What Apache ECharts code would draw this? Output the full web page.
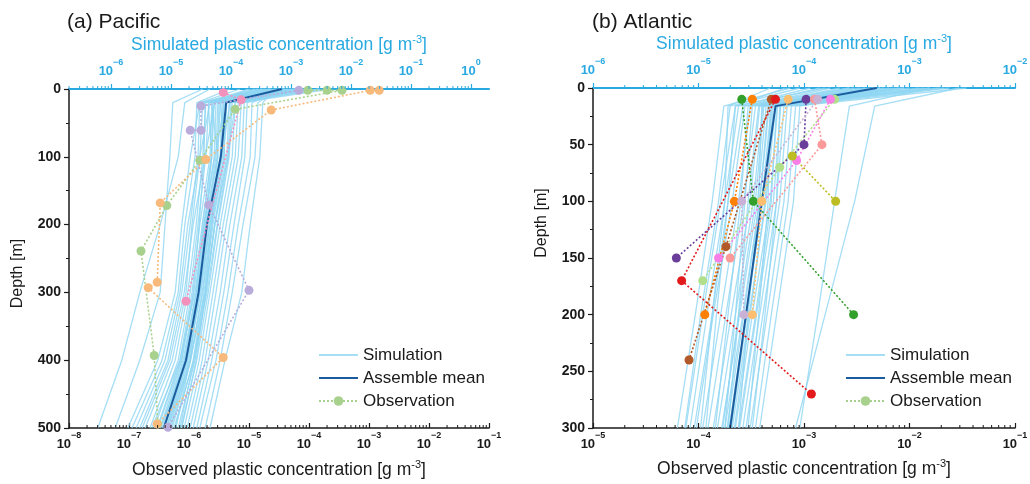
<!DOCTYPE html>
<html><head><meta charset="utf-8">
<script src="https://cdn.jsdelivr.net/npm/echarts@6/dist/echarts.min.js"></script>
<style>html,body{margin:0;padding:0;background:#fff}#c{width:1030px;height:484px}</style>
</head><body><div id="c"></div>
<script>
// ---------------- DATA (concentrations stored as log10 of g m^-3) ----------------
// Pacific simulation depths [m] and ensemble members (top axis, simulated)
const simDepthPacific = [0, 20, 100, 200, 300, 400, 500];
const simPacific = [
 [-4.47,-4.97,-5.02,-5.10,-5.18,-5.52,-5.93],
 [-4.35,-4.77,-4.88,-5.18,-5.52,-5.82,-6.22],
 [-4.02,-4.57,-4.60,-4.77,-4.88,-5.15,-5.65],
 [-3.85,-4.52,-4.55,-4.68,-4.82,-5.05,-5.52],
 [-3.68,-4.47,-4.52,-4.65,-4.75,-4.98,-5.43],
 [-3.60,-4.42,-4.47,-4.58,-4.72,-4.93,-5.35],
 [-3.48,-4.37,-4.42,-4.55,-4.68,-4.88,-5.28],
 [-3.38,-4.32,-4.35,-4.52,-4.65,-4.85,-5.23],
 [-3.32,-4.28,-4.32,-4.48,-4.62,-4.82,-5.18],
 [-3.25,-4.25,-4.28,-4.45,-4.58,-4.80,-5.15],
 [-3.18,-4.22,-4.25,-4.42,-4.57,-4.77,-5.10],
 [-3.10,-4.18,-4.22,-4.40,-4.53,-4.73,-5.07],
 [-3.05,-4.15,-4.18,-4.37,-4.52,-4.70,-5.02],
 [-2.98,-4.12,-4.15,-4.33,-4.48,-4.67,-4.98],
 [-2.93,-4.08,-4.12,-4.30,-4.45,-4.63,-4.93],
 [-2.85,-4.03,-4.07,-4.27,-4.42,-4.60,-4.88],
 [-2.77,-3.98,-4.03,-4.22,-4.38,-4.57,-4.83],
 [-2.68,-3.93,-3.98,-4.18,-4.35,-4.53,-4.78],
 [-2.52,-3.88,-3.93,-4.13,-4.30,-4.48,-4.73],
 [-2.35,-3.83,-3.88,-4.08,-4.25,-4.43,-4.68],
 [-2.88,-3.78,-3.82,-4.02,-4.18,-4.38,-4.63],
 [-3.02,-3.73,-3.77,-3.95,-4.12,-4.32,-4.57],
 [-3.10,-3.65,-3.68,-3.88,-4.05,-4.25,-4.52],
 [-3.18,-3.55,-3.60,-3.80,-3.98,-4.18,-4.43],
 [-3.27,-3.47,-3.52,-3.68,-3.82,-4.10,-4.35],
 [-3.43,-4.52,-4.68,-4.82,-4.93,-5.22,-5.72],
 [-3.55,-4.35,-4.52,-4.72,-4.85,-5.10,-5.58],
 [-3.72,-4.27,-4.43,-4.63,-4.78,-5.02,-5.48],
 [-2.85,-4.10,-4.27,-4.45,-4.60,-4.85,-5.32],
 [-2.68,-4.02,-4.15,-4.35,-4.52,-4.75,-5.18],
 [-2.52,-3.93,-4.05,-4.27,-4.43,-4.68,-5.05],
 [-2.93,-4.18,-4.10,-4.27,-4.42,-4.58,-4.82],
 [-3.10,-4.32,-4.22,-4.32,-4.43,-4.62,-4.85],
 [-3.35,-4.38,-4.32,-4.43,-4.55,-4.68,-4.92],
 [-3.13,-4.20,-4.23,-4.42,-4.55,-4.75,-5.08],
 [-3.22,-4.13,-4.17,-4.35,-4.50,-4.72,-5.05],
 [-3.02,-4.07,-4.12,-4.32,-4.47,-4.68,-5.00],
 [-3.35,-4.30,-4.33,-4.47,-4.58,-4.78,-5.13],
 [-2.92,-4.00,-4.05,-4.23,-4.40,-4.62,-4.95],
 [-3.48,-4.43,-4.45,-4.53,-4.63,-4.83,-5.22]
];
const meanPacific = [-3.15,-4.08,-4.17,-4.40,-4.54,-4.75,-5.12];

// Pacific observations: [depth m, log10 conc] (bottom axis, observed)
const obsPacificColors = ['#a9d18e', '#f7ba7c', '#b9acdb', '#f291bb'];
const obsPacific = [
 [[2,-4.02],[2,-3.70],[2,-3.45],[30,-5.23],[105,-5.82],[172,-6.37],[239,-6.80],[393,-6.58],[494,-6.52]],
 [[2,-2.83],[2,-2.98],[31,-4.63],[104,-5.72],[168,-6.48],[285,-6.53],[293,-6.68],[396,-5.43],[494,-6.53]],
 [[2,-4.17],[25,-5.80],[61,-5.80],[61,-5.98],[171,-5.67],[297,-5.00],[499,-6.35]],
 [[5,-5.43],[16,-5.13],[313,-6.05]]
];

// Atlantic simulation depths [m] and ensemble members
const simDepthAtlantic = [0, 16, 100, 200, 300];
const simAtlantic = [
 [-4.13,-4.76,-4.87,-5.03,-5.20],
 [-4.04,-4.70,-4.81,-4.98,-5.13],
 [-3.94,-4.62,-4.75,-4.92,-5.08],
 [-3.85,-4.56,-4.68,-4.86,-5.02],
 [-3.75,-4.51,-4.62,-4.79,-4.96],
 [-3.66,-4.46,-4.57,-4.74,-4.91],
 [-3.57,-4.42,-4.51,-4.69,-4.86],
 [-3.47,-4.39,-4.48,-4.65,-4.82],
 [-3.38,-4.36,-4.44,-4.61,-4.78],
 [-3.28,-4.33,-4.42,-4.58,-4.75],
 [-3.19,-4.30,-4.39,-4.55,-4.71],
 [-3.09,-4.27,-4.36,-4.52,-4.68],
 [-3.00,-4.25,-4.32,-4.49,-4.65],
 [-2.91,-4.22,-4.29,-4.45,-4.61],
 [-2.81,-4.19,-4.26,-4.42,-4.58],
 [-2.72,-4.16,-4.23,-4.39,-4.55],
 [-2.62,-4.12,-4.19,-4.35,-4.51],
 [-2.46,-4.08,-4.15,-4.31,-4.46],
 [-3.09,-4.04,-4.10,-4.26,-4.42],
 [-2.53,-3.33,-3.52,-3.80,-4.08],
 [-2.81,-3.57,-3.71,-3.87,-4.04],
 [-4.32,-4.72,-4.75,-4.87,-4.98],
 [-4.18,-4.65,-4.72,-4.83,-4.93],
 [-3.28,-4.49,-4.56,-4.65,-4.75],
 [-3.05,-4.43,-4.53,-4.62,-4.72],
 [-2.67,-4.40,-4.43,-4.53,-4.62],
 [-3.33,-4.53,-4.60,-4.72,-4.84],
 [-3.42,-4.32,-4.34,-4.43,-4.53],
 [-3.14,-4.23,-4.26,-4.37,-4.49],
 [-3.57,-4.58,-4.72,-4.87,-5.04],
 [-3.80,-4.65,-4.79,-4.96,-5.12],
 [-3.33,-4.34,-4.42,-4.57,-4.73],
 [-3.05,-4.29,-4.37,-4.51,-4.66],
 [-3.52,-4.38,-4.46,-4.62,-4.77],
 [-2.86,-4.26,-4.31,-4.46,-4.62],
 [-3.24,-4.31,-4.40,-4.54,-4.69]
];
const meanAtlantic = [-3.31,-4.27,-4.40,-4.55,-4.70];

// Atlantic observations: [depth m, log10 conc]
const obsAtlanticColors = ['#b2df8a','#33a02c','#ff7f00','#b15928','#e31a1c','#fdbf6f','#6a3d9a','#fb9a99','#cab2d6','#f77fe6','#bcbd22'];
const obsAtlantic = [
 [[10,-2.71],[70,-3.23],[170,-3.96]],
 [[10,-3.59],[100,-3.48],[200,-2.53]],
 [[10,-3.49],[100,-3.66],[200,-3.94]],
 [[10,-3.31],[140,-3.74],[240,-4.09]],
 [[10,-3.27],[170,-4.16],[270,-2.93]],
 [[10,-3.15],[100,-3.40],[200,-3.49]],
 [[10,-2.98],[50,-3.00],[150,-4.21]],
 [[10,-2.90],[50,-2.83],[150,-3.70]],
 [[10,-2.87],[100,-3.59],[200,-3.57]],
 [[10,-2.75],[64,-3.07],[150,-3.81]],
 [[60,-3.11],[100,-2.70]]
];

// Tick labels (decades) of the four concentration axes
const ticksPacificObs = [1e-8,1e-7,1e-6,1e-5,1e-4,1e-3,1e-2,1e-1];
const ticksPacificSim = [1e-6,1e-5,1e-4,1e-3,1e-2,1e-1,1e0];
const ticksAtlanticObs = [1e-5,1e-4,1e-3,1e-2,1e-1];
const ticksAtlanticSim = [1e-6,1e-5,1e-4,1e-3,1e-2];

// ---------------- CHART ----------------
const BLUE = '#29a9e1', DARK = '#1a1a1a', SIMC = '#8fd6f3', MEANC = '#1b5c9e';
const FONT = '"Liberation Sans", Arial, sans-serif';

function supLabel(v) {
  const e = Math.round(Math.log10(v));
  return '{b|10}{s|' + (e < 0 ? '\u2212' + (-e) : e) + '}';
}
function richFor(c) {
  return {
    b: {fontSize: 13, fontWeight: 'bold', color: c, lineHeight: 20, verticalAlign: 'bottom', fontFamily: FONT},
    s: {fontSize: 9, fontWeight: 'bold', color: c, lineHeight: 10, verticalAlign: 'top', fontFamily: FONT}
  };
}
// minor log ticks (2..9 x 10^k) inside [10^lo, 10^hi]
function minorValues(lo, hi) {
  const out = [];
  for (let k = Math.floor(lo); k <= Math.ceil(hi); k++) {
    for (let m = 2; m <= 9; m++) {
      const lv = Math.log10(m) + k;
      if (lv >= lo - 1e-9 && lv <= hi + 1e-9) out.push(m * Math.pow(10, k));
    }
  }
  return out;
}
function mainAxis(grid, pos, lo, hi, color, width, ticks, name, nameGap, margin) {
  return {
    type: 'log', logBase: 10, gridIndex: grid, position: pos,
    min: Math.pow(10, lo), max: Math.pow(10, hi),
    name: name, nameLocation: 'middle', nameGap: nameGap, nameMoveOverlap: false,
    nameTextStyle: {fontSize: 17.5, color: color, fontFamily: FONT, lineHeight: 22,
      rich: {s: {fontSize: 11, color: color, lineHeight: 12, verticalAlign: 'top', fontFamily: FONT}}},
    axisLine: {show: true, onZero: false, lineStyle: {color: color, width: width}},
    axisTick: {show: true, inside: pos === 'bottom', length: 5, customValues: ticks, lineStyle: {color: color, width: 1.2}},
    axisLabel: {show: true, customValues: ticks, formatter: supLabel, margin: margin, rich: richFor(color)},
    splitLine: {show: false}, minorTick: {show: false}, minorSplitLine: {show: false}
  };
}
function depthAxis(grid, max, interval, pad) {
  return {
    type: 'value', gridIndex: grid, inverse: true, min: 0, max: max, interval: interval,
    name: 'Depth [m]', nameLocation: 'middle', nameGap: 43, nameMoveOverlap: false,
    nameTextStyle: {fontSize: 16, color: DARK, fontFamily: FONT, padding: pad},
    axisLine: {show: true, onZero: false, lineStyle: {color: DARK, width: 1.5}},
    axisTick: {show: true, length: 5, lineStyle: {color: DARK, width: 1.2}},
    minorTick: {show: true, splitNumber: 2, length: 3, lineStyle: {color: DARK, width: 1}},
    axisLabel: {fontSize: 14, fontWeight: 'bold', color: DARK, margin: 8, fontFamily: FONT},
    splitLine: {show: false}, minorSplitLine: {show: false}
  };
}

const simName = 'Simulated plastic concentration [g m{s|-3}]';
const obsName = 'Observed plastic concentration [g m{s|-3}]';

const xAxis = [
  mainAxis(0, 'bottom', -8, -1, DARK, 1.5, ticksPacificObs, obsName, 31, 3),
  mainAxis(0, 'top', -6.7, 0.3, BLUE, 2, ticksPacificSim, simName, 33, 11),
  mainAxis(1, 'bottom', -5, -1, DARK, 1.5, ticksAtlanticObs, obsName, 30, 3),
  mainAxis(1, 'top', -6, -2, BLUE, 2, ticksAtlanticSim, simName, 33, 11)
];
const yAxis = [depthAxis(0, 500, 100, [0, 30, 0, 0]), depthAxis(1, 300, 50, [0, 0, 0, 70])];

const series = [];
// minor ticks drawn through the axis scale (custom series)
function addMinorTicks(xIdx, yIdx, lo, hi, edgeDepth, color) {
  series.push({
    type: 'custom', xAxisIndex: xIdx, yAxisIndex: yIdx, silent: true, clip: false, z: 5,
    data: minorValues(lo, hi).map(v => [v, edgeDepth]),
    renderItem: function (params, api) {
      const p = api.coord([api.value(0), api.value(1)]);
      return {type: 'line', shape: {x1: p[0], y1: p[1], x2: p[0], y2: p[1] - 3},
              style: {stroke: color, lineWidth: 1}};
    }
  });
}
function addPanel(gridIdx, xObs, xSim, depths, sims, mean, obs, colors) {
  sims.forEach(row => series.push({
    type: 'line', name: 'Simulation', xAxisIndex: xSim, yAxisIndex: gridIdx,
    data: depths.map((d, i) => [Math.pow(10, row[i]), d]),
    symbol: 'none', silent: true, z: 2,
    lineStyle: {color: SIMC, width: 1.3, opacity: 0.8}, itemStyle: {color: SIMC}
  }));
  series.push({
    type: 'line', name: 'Assemble mean', xAxisIndex: xSim, yAxisIndex: gridIdx,
    data: depths.map((d, i) => [Math.pow(10, mean[i]), d]),
    symbol: 'none', silent: true, z: 3,
    lineStyle: {color: MEANC, width: 2}, itemStyle: {color: MEANC}
  });
  obs.forEach((prof, j) => series.push({
    type: 'line', name: 'Observation', xAxisIndex: xObs, yAxisIndex: gridIdx,
    data: prof.map(p => [Math.pow(10, p[1]), p[0]]),
    symbol: 'circle', symbolSize: 9, showSymbol: true, silent: true, z: 4,
    lineStyle: {color: colors[j], width: 1.6, type: [2, 2]},
    itemStyle: {color: colors[j]}
  }));
}
addPanel(0, 0, 1, simDepthPacific, simPacific, meanPacific, obsPacific, obsPacificColors);
addPanel(1, 2, 3, simDepthAtlantic, simAtlantic, meanAtlantic, obsAtlantic, obsAtlanticColors);
addMinorTicks(0, 0, -8, -1, 500, DARK);
addMinorTicks(1, 0, -6.7, 0.3, 0, BLUE);
addMinorTicks(2, 1, -5, -1, 300, DARK);
addMinorTicks(3, 1, -6, -2, 0, BLUE);

const legendBase = {
  orient: 'vertical', itemWidth: 39, itemHeight: 12, itemGap: 5, selectedMode: false, padding: 0,
  textStyle: {fontSize: 17, color: DARK, lineHeight: 18, fontFamily: FONT},
  data: [
    {name: 'Simulation', itemStyle: {opacity: 0}},
    {name: 'Assemble mean', itemStyle: {opacity: 0}},
    {name: 'Observation'}
  ]
};

const option = {
  animation: false,
  backgroundColor: '#fff',
  textStyle: {fontFamily: FONT},
  title: [
    {text: '(a) Pacific', left: 67, top: 12, padding: 0, textStyle: {fontSize: 21, fontWeight: 'normal', color: DARK, fontFamily: FONT}},
    {text: '(b) Atlantic', left: 592, top: 12, padding: 0, textStyle: {fontSize: 21, fontWeight: 'normal', color: DARK, fontFamily: FONT}}
  ],
  legend: [
    Object.assign({}, legendBase, {left: 318, top: 346}),
    Object.assign({}, legendBase, {left: 845, top: 346})
  ],
  grid: [
    {left: 69, right: 541, top: 89, bottom: 56, containLabel: false, outerBoundsMode: 'none'},
    {left: 593, right: 15, top: 88, bottom: 56, containLabel: false, outerBoundsMode: 'none'}
  ],
  xAxis: xAxis,
  yAxis: yAxis,
  series: series
};
const chart = echarts.init(document.getElementById('c'), null, {renderer: 'canvas'});
chart.setOption(option);
</script></body></html>
